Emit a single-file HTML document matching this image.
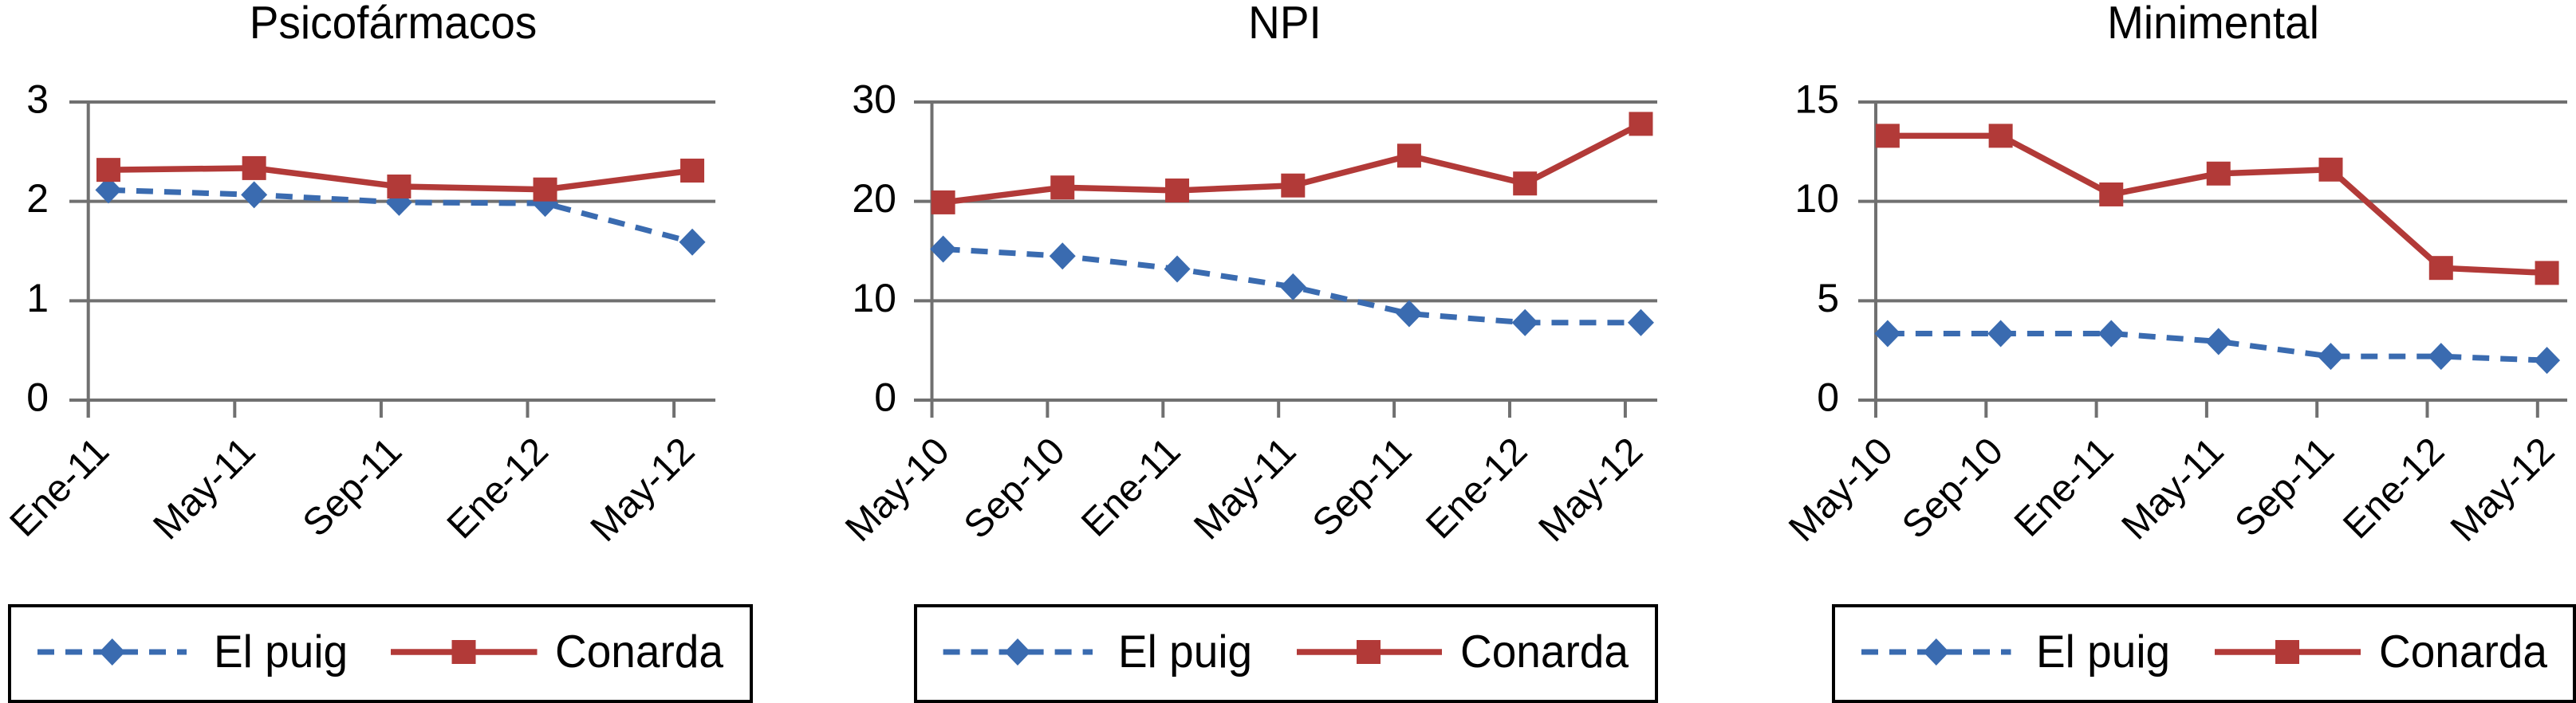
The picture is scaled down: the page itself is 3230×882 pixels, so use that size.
<!DOCTYPE html>
<html lang="es">
<head>
<meta charset="utf-8">
<title>Psicofármacos, NPI y Minimental</title>
<style>
html,body{margin:0;padding:0;background:#fff;}
svg{display:block;font-family:"Liberation Sans",Arial,sans-serif;fill:#000;}
</style>
</head>
<body>
<svg id="figure" xmlns="http://www.w3.org/2000/svg" width="3230" height="882" viewBox="0 0 3230 882">
  <rect x="0" y="0" width="3230" height="882" fill="#fff"/>

  <text transform="translate(493 48) scale(1 1.05)" font-size="55" text-anchor="middle">Psicofármacos</text>
  <text transform="translate(1611 48) scale(1 1.05)" font-size="55" text-anchor="middle">NPI</text>
  <text transform="translate(2775 48) scale(1 1.05)" font-size="55" text-anchor="middle">Minimental</text>

  <g id="chart-psico"></g>
  <g id="chart-npi"></g>
  <g id="chart-mini"></g>

  <g>
    <rect x="12" y="760" width="930" height="120" fill="#fff" stroke="#000" stroke-width="4"/>
    <line x1="47" x2="234" y1="818" y2="818" stroke="#3a6bb0" stroke-width="7" stroke-dasharray="21 14"/>
    <polygon points="140.7,801 157,818 140.7,835 124.4,818" fill="#3a6bb0"/>
    <text transform="translate(268 837) scale(1 1.05)" font-size="55">El puig</text>
    <line x1="490" x2="673.5" y1="818" y2="818" stroke="#b23a38" stroke-width="7.5"/>
    <rect x="566.5" y="803" width="30" height="30" fill="#b23a38"/>
    <text transform="translate(696 837) scale(1 1.05)" font-size="55">Conarda</text>
  </g>
  <g>
    <rect x="1148" y="760" width="929" height="120" fill="#fff" stroke="#000" stroke-width="4"/>
    <line x1="1182.6" x2="1370" y1="818" y2="818" stroke="#3a6bb0" stroke-width="7" stroke-dasharray="21 14"/>
    <polygon points="1276,801 1292.3,818 1276,835 1259.7,818" fill="#3a6bb0"/>
    <text transform="translate(1402 837) scale(1 1.05)" font-size="55">El puig</text>
    <line x1="1626" x2="1808" y1="818" y2="818" stroke="#b23a38" stroke-width="7.5"/>
    <rect x="1701" y="803" width="30" height="30" fill="#b23a38"/>
    <text transform="translate(1831 837) scale(1 1.05)" font-size="55">Conarda</text>
  </g>
  <g>
    <rect x="2299" y="760" width="929" height="120" fill="#fff" stroke="#000" stroke-width="4"/>
    <line x1="2334" x2="2521.5" y1="818" y2="818" stroke="#3a6bb0" stroke-width="7" stroke-dasharray="21 14"/>
    <polygon points="2427.8,801 2444.1,818 2427.8,835 2411.5,818" fill="#3a6bb0"/>
    <text transform="translate(2553 837) scale(1 1.05)" font-size="55">El puig</text>
    <line x1="2777" x2="2960" y1="818" y2="818" stroke="#b23a38" stroke-width="7.5"/>
    <rect x="2853" y="803" width="30" height="30" fill="#b23a38"/>
    <text transform="translate(2983 837) scale(1 1.05)" font-size="55">Conarda</text>
  </g>
</svg>
<script>
// Psicofármacos data
const psicoCategories = ["Ene-11", "May-11", "Sep-11", "Ene-12", "May-12"];
const psicoYTicks = [0, 1, 2, 3];
const psicoMonths = [0.55, 4.53, 8.49, 12.48, 16.5];
const psicoElPuig = [2.115, 2.067, 1.99, 1.98, 1.59];
const psicoConarda = [2.317, 2.335, 2.15, 2.12, 2.31];

// NPI data
const npiCategories = ["May-10", "Sep-10", "Ene-11", "May-11", "Sep-11", "Ene-12", "May-12"];
const npiYTicks = [0, 10, 20, 30];
const npiMonths = [0.39, 4.52, 8.49, 12.5, 16.52, 20.53, 24.54];
const npiElPuig = [15.2, 14.5, 13.2, 11.4, 8.7, 7.8, 7.8];
const npiConarda = [19.9, 21.4, 21.1, 21.6, 24.6, 21.8, 27.8];

// Minimental data
const miniCategories = ["May-10", "Sep-10", "Ene-11", "May-11", "Sep-11", "Ene-12", "May-12"];
const miniYTicks = [0, 5, 10, 15];
const miniMonths = [0.43, 4.53, 8.54, 12.43, 16.5, 20.5, 24.34];
const miniElPuig = [3.35, 3.35, 3.35, 2.95, 2.2, 2.2, 2.0];
const miniConarda = [13.3, 13.3, 10.35, 11.4, 11.6, 6.65, 6.4];

const SVG_NS = "http://www.w3.org/2000/svg";
const AXIS_COLOR = "#707070";
const BLUE = "#3a6bb0";
const RED = "#b23a38";

function make(parent, tag, attrs) {
  const el = document.createElementNS(SVG_NS, tag);
  for (const k in attrs) el.setAttribute(k, attrs[k]);
  parent.appendChild(el);
  return el;
}

function renderChart(rootId, cfg) {
  const root = document.getElementById(rootId);
  const maxY = cfg.yTicks[cfg.yTicks.length - 1];
  const yTop = 128, yBottom = 502, tickBottom = 524;
  const xScale = function (months) { return cfg.x0 + (months / 4) * cfg.step; };
  const yScale = function (v) { return yBottom - (v / maxY) * (yBottom - yTop); };

  cfg.yTicks.forEach(function (t) {
    const y = yScale(t);
    const grid = make(root, "line", { x1: cfg.gridLeft, x2: cfg.gridRight, y1: y, y2: y, stroke: AXIS_COLOR, "stroke-width": 4 });
    
    
    const lab = make(root, "text", { x: cfg.yLabelX, y: y + 13.5, "font-size": 50, "text-anchor": "end" });
    
    
    lab.textContent = t;
  });

  const yAxis = make(root, "line", { x1: cfg.x0, x2: cfg.x0, y1: yTop, y2: tickBottom, stroke: AXIS_COLOR, "stroke-width": 4 });
  
  

  cfg.categories.forEach(function (c, i) {
    const x = xScale(i * 4);
    const tick = make(root, "line", { x1: x, x2: x, y1: yBottom, y2: tickBottom, stroke: AXIS_COLOR, "stroke-width": 4 });
    
    
    const lx = x + cfg.labelDx, ly = 569;
    const lab = make(root, "text", { x: lx, y: ly, "font-size": 48, "text-anchor": "end", transform: "rotate(-45 " + lx + " " + ly + ")" });
    
    
    lab.textContent = c;
  });

  const pts = function (vals) {
    return vals.map(function (v, i) { return xScale(cfg.months[i]) + "," + yScale(v); }).join(" ");
  };

  const blueLine = make(root, "polyline", { points: pts(cfg.elPuig), fill: "none", stroke: BLUE, "stroke-width": 7, "stroke-dasharray": "21 14" });
  
  
  cfg.elPuig.forEach(function (v, i) {
    const cx = xScale(cfg.months[i]), cy = yScale(v);
    const m = make(root, "polygon", { points: cx + "," + (cy - 17) + " " + (cx + 16.5) + "," + cy + " " + cx + "," + (cy + 17) + " " + (cx - 16.5) + "," + cy, fill: BLUE });
    
    
  });

  const redLine = make(root, "polyline", { points: pts(cfg.conarda), fill: "none", stroke: RED, "stroke-width": 7.5 });
  
  
  cfg.conarda.forEach(function (v, i) {
    const cx = xScale(cfg.months[i]), cy = yScale(v);
    const m = make(root, "rect", { x: cx - 15, y: cy - 15, width: 30, height: 30, fill: RED });
    
    
  });
}

renderChart("chart-psico", { x0: 110.7, step: 183.6, gridLeft: 87, gridRight: 897, yLabelX: 61, labelDx: 28.5, categories: psicoCategories, yTicks: psicoYTicks, months: psicoMonths, elPuig: psicoElPuig, conarda: psicoConarda });
renderChart("chart-npi", { x0: 1168.5, step: 144.9, gridLeft: 1146, gridRight: 2078, yLabelX: 1124, labelDx: 24.5, categories: npiCategories, yTicks: npiYTicks, months: npiMonths, elPuig: npiElPuig, conarda: npiConarda });
renderChart("chart-mini", { x0: 2352, step: 138.3, gridLeft: 2330, gridRight: 3219, yLabelX: 2306, labelDx: 24, categories: miniCategories, yTicks: miniYTicks, months: miniMonths, elPuig: miniElPuig, conarda: miniConarda });
</script>
</body>
</html>
